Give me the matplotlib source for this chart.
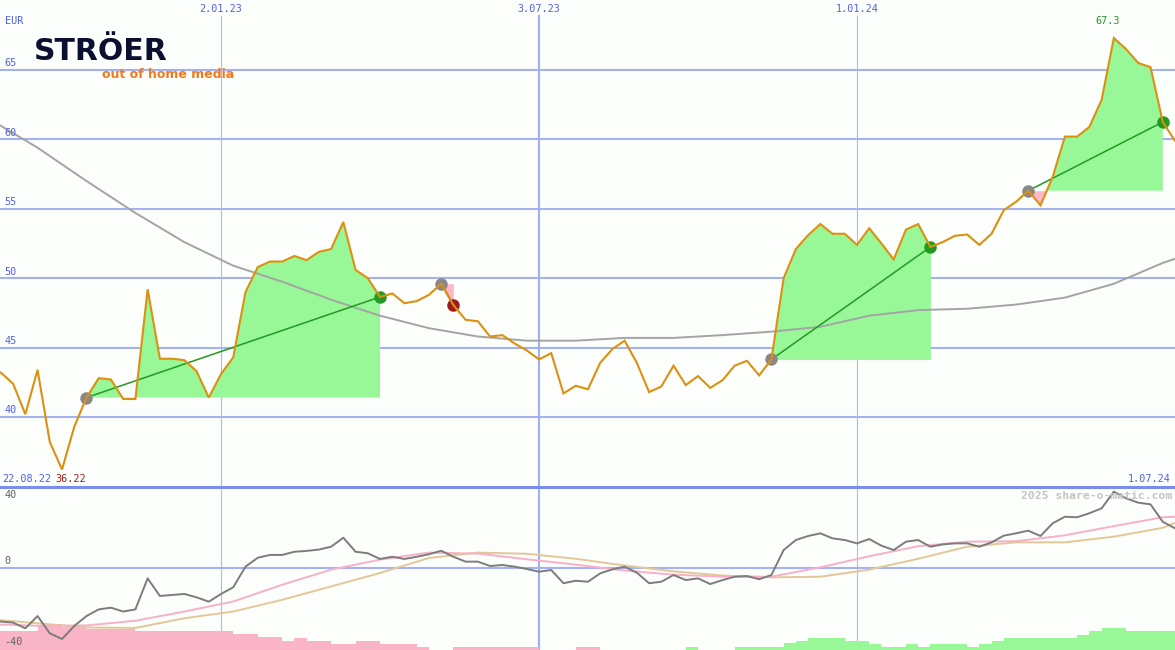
import numpy as np
import matplotlib
matplotlib.use("Agg")
import matplotlib.pyplot as plt
import matplotlib.dates as mdates
from matplotlib.lines import Line2D

# ---- weekly data -------------------------------------------------------
start = np.datetime64('2022-08-22')
weeks = start + np.arange(98) * np.timedelta64(7, 'D')

close = [43.5, 43.2, 42.4, 40.2, 43.4, 38.2, 36.22, 39.3, 41.4, 42.8,
         42.7, 41.3, 41.3, 49.2, 44.2, 44.2, 44.1, 43.3, 41.4, 43.1,
         44.3, 49.0, 50.8, 51.2, 51.2, 51.6, 51.3, 51.9, 52.1, 54.05,
         50.6, 50.0, 48.65, 48.9, 48.2, 48.35, 48.8, 49.6, 48.06, 47.0,
         46.9, 45.8, 45.9, 45.3, 44.8, 44.15, 44.6, 41.7, 42.25, 42.0,
         43.9, 44.9, 45.5, 43.9, 41.8, 42.2, 43.7, 42.3, 42.95, 42.1,
         42.65, 43.7, 44.05, 43.0, 44.15, 50.0, 52.1, 53.1, 53.9, 53.2,
         53.2, 52.4, 53.6, 52.5, 51.35, 53.5, 53.9, 52.25, 52.6, 53.05,
         53.15, 52.4, 53.2, 54.9, 55.5, 56.3, 55.25, 57.3, 60.2, 60.2,
         60.9, 62.85, 67.3, 66.5, 65.5, 65.2, 61.25, 59.9]

# long moving average, sampled every fourth week (plus the last week)
ma_idx = [0, 4, 8, 12, 16, 20, 24, 28, 32, 36, 40, 44, 48, 52, 56, 60,
          64, 68, 72, 76, 80, 84, 88, 92, 96, 97]
ma_long = [61.5, 59.4, 57.0, 54.7, 52.6, 50.9, 49.75, 48.45, 47.3, 46.4,
           45.8, 45.5, 45.5, 45.7, 45.7, 45.9, 46.15, 46.5, 47.3, 47.7,
           47.8, 48.1, 48.6, 49.6, 51.1, 51.4]

# trades: entry week, exit week
entries = [8, 37, 64, 85]
exits = [32, 38, 77, 96]

# momentum oscillator (lower panel)
momentum = [-30, -32, -32.6, -36, -28.7, -39, -42.4, -34.6, -28.7, -24.7,
            -23.7, -26, -24.7, -6.2, -16.7, -16.1, -15.5, -17.5, -20.1, -15.5,
            -11.5, 0.8, 6.1, 7.8, 7.8, 9.7, 10.2, 11.0, 12.7, 18.1,
            9.7, 8.8, 5.4, 6.7, 5.4, 6.7, 8.2, 10.3, 6.7, 3.8,
            3.8, 1.2, 1.8, 0.8, -0.6, -2.2, -1.2, -9.1, -7.6, -8.2,
            -3.2, -0.8, 0.8, -2.8, -9.1, -8.2, -4.2, -7.2, -6.2, -9.6,
            -7.2, -5.2, -4.8, -6.7, -4.2, 10.7, 16.7, 19.1, 20.7, 17.7,
            16.7, 14.7, 17.3, 13.3, 10.7, 15.7, 16.7, 12.7, 14.1, 14.7,
            14.7, 12.7, 15.3, 19.3, 20.7, 22.3, 19.1, 26.7, 30.6, 30.3,
            32.7, 35.6, 45.6, 41.6, 39.0, 38.0, 27.6, 23.7]

signal_fast = [-33.5, -34.5, -34.3, -31.5, -26, -20, -10, -1, 5, 9.2,
               8.6, 5.2, 2, -1.5, -4, -5.2, -5.2, 0.4, 7, 13,
               15.7, 16, 19.5, 25, 30.3, 30.6]
signal_slow = [-30.5, -33, -35.5, -35.8, -30, -26, -19, -11, -3, 6,
               9.2, 8.5, 5.5, 1.5, -2, -4.5, -5.6, -5.2, -1, 5.5,
               12.7, 15.3, 15.3, 18.7, 24, 27]

trend = ([-11.5] * 4 + [-14.5, -15.5, -13.9, -13.9] + [-12.5] * 4 + [-11.5] * 8
         + [-9.5] * 2 + [-8] * 2 + [-5.5, -7.3] + [-5.4] * 2 + [-3.6] * 2
         + [-5.4] * 2 + [-3.6] * 3 + [-1.8] + [0] * 2 + [-1.8] * 7 + [0] * 3
         + [-1.8] * 2 + [0] * 7 + [2] + [0] * 3 + [2] * 4 + [4, 5.4]
         + [7.3] * 3 + [5.4] * 2 + [3.6] + [2] * 2 + [3.6, 2] + [3.6] * 3
         + [2, 3.6, 5.4] + [7] * 6 + [9, 11.3] + [13.3] * 2 + [11.3] * 5)

price_ticks = [40, 45, 50, 55, 60, 65]
osc_ticks = [40, 0, -40]
date_marks = [np.datetime64('2023-01-02'), np.datetime64('2023-07-03'),
              np.datetime64('2024-01-01')]
date_major = [False, True, False]

# ---- styling -------------------------------------------------------------
W, H = 1175, 650
SPLIT = 487
BG = '#fcfefc'
GRID = '#a4b2f2'
LABEL_BLUE = '#5060ea'
ORANGE = '#dd9010'
FILL_UP = '#98f898'
FILL_DN = '#ffb8c8'
WIN = '#229a22'
LOSS = '#a01c1c'
MONO = 'DejaVu Sans Mono'


def dlabel(d):
    d = d.astype(object)
    return f"{d.day}.{d.month:02d}.{d.year % 100:02d}"


def fpx(x, y):
    return x / W, 1 - y / H


xn = mdates.date2num(weeks)
price = np.array(close)
x_left, x_right = xn[0] + 6.5, xn[-1]

fig = plt.figure(figsize=(W / 100, H / 100), dpi=100)
fig.patch.set_facecolor(BG)
ax = fig.add_axes([0, (H - SPLIT) / H, 1, SPLIT / H])
ax2 = fig.add_axes([0, 0, 1, (H - SPLIT) / H])
for a in (ax, ax2):
    a.set_axis_off()
    a.set_xlim(x_left, x_right)
ax.set_ylim(34.96, 70.04)
ax2.set_ylim(-48.96, 48.36)

# ---- price panel --------------------------------------------------------
for v in price_ticks:
    ax.axhline(v, color=GRID, lw=1.5, zorder=1)
    ax.text(x_left + 2.5, v + 0.12, f"{v}", color=LABEL_BLUE, fontsize=7.3,
            family=MONO, va='bottom', ha='left', zorder=7)

for d, major in zip(date_marks, date_major):
    xd = mdates.date2num(d)
    ax.axvline(xd, ymin=0, ymax=1 - 16 / SPLIT, color='#9fb0f4' if major else '#b0bae8',
               lw=1.5 if major else 0.8, zorder=1)
    ax2.axvline(xd, color='#9fb0f4' if major else '#b0bae8',
                lw=1.5 if major else 0.8, zorder=1)
    ax.text(xd, 1 - 9 / SPLIT, dlabel(d), transform=ax.get_xaxis_transform(),
            color=LABEL_BLUE, fontsize=7.3, family=MONO, ha='center', va='center')

for e, x_ in zip(entries, exits):
    sx, sy, base = xn[e:x_ + 1], price[e:x_ + 1], price[e]
    ax.fill_between(sx, base, sy, where=sy >= base, interpolate=True,
                    color=FILL_UP, lw=0, zorder=2)
    ax.fill_between(sx, base, sy, where=sy <= base, interpolate=True,
                    color=FILL_DN, lw=0, zorder=2)

ax.plot(xn[ma_idx], ma_long, color='#a4a4a4', lw=1.4, zorder=3)

for e, x_ in zip(entries, exits):
    won = price[x_] > price[e]
    ax.plot([xn[e], xn[x_]], [price[e], price[x_]], color=WIN if won else LOSS,
            lw=1.1, zorder=4)
    ax.plot(xn[e], price[e], 'o', ms=9, color='#888888', mec='none', zorder=4.5)
    ax.plot(xn[x_], price[x_], 'o', ms=9, color=WIN if won else LOSS,
            mec='none', zorder=4.5)

ax.plot(xn, price, color=ORANGE, lw=1.5, zorder=5, solid_joinstyle='miter')

imax, imin = int(np.argmax(price)), int(np.argmin(price))
ax.annotate(f"{price[imax]:.1f}", xy=(xn[imax], price[imax]), xytext=(-6, 17),
            textcoords='offset pixels', color=WIN, fontsize=7.3, family=MONO,
            ha='center', va='center')

fig.text(*fpx(5, 21), "EUR", color=LABEL_BLUE, fontsize=7.3, family=MONO,
         va='center', ha='left')
fig.text(*fpx(2, 479), dlabel(weeks[0]), color=LABEL_BLUE, fontsize=7.3,
         family=MONO, va='center', ha='left')
fig.text(*fpx(55, 479), f"{price[imin]:.2f}", color=LOSS, fontsize=7.3,
         family=MONO, va='center', ha='left')
fig.text(*fpx(1171, 479), dlabel(weeks[-1]), color=LABEL_BLUE, fontsize=7.3,
         family=MONO, va='center', ha='right')

# logo
fig.text(*fpx(34, 51), "STRÖER", color='#0b1030', fontsize=21.5,
         fontweight='heavy', family='DejaVu Sans', va='center', ha='left')
fig.text(*fpx(102, 75), "out of home media", color='#f07a1e', fontsize=9,
         fontweight='bold', family='DejaVu Sans', va='center', ha='left')

# separator between panels
fig.add_artist(Line2D([0, 1], [(H - SPLIT) / H] * 2, transform=fig.transFigure,
                      color='#7a8cee', lw=2.2, zorder=10))

# ---- oscillator panel ------------------------------------------------------
ax2.axhline(0, color=GRID, lw=1.5, zorder=1)
ylow = ax2.get_ylim()[0]
ax2.bar(xn, np.abs(trend), width=7, align='edge', bottom=ylow,
        color=['#f9b4c8' if t < 0 else '#98f898' for t in trend], lw=0, zorder=2)
ax2.plot(xn[ma_idx], signal_slow, color='#e2c898', lw=1.4, zorder=3)
ax2.plot(xn[ma_idx], signal_fast, color='#f8b0c8', lw=1.4, zorder=3)
ax2.plot(xn, momentum, color='#7c7c7c', lw=1.4, zorder=4)

osc_label_pos = {40: 40.3, 0: 0.9, -40: -47.2}
for v in osc_ticks:
    ax2.text(x_left + 2.5, osc_label_pos[v], f"{v}", color='#606060',
             fontsize=7.3, family=MONO, va='bottom', ha='left', zorder=7)

fig.text(*fpx(1172, 496), "2025 share-o-matic.com", color='#c4c4c4', fontsize=8.2,
         fontweight='bold', family=MONO, va='center', ha='right')

fig.savefig("out.png", dpi=100, facecolor=BG)
